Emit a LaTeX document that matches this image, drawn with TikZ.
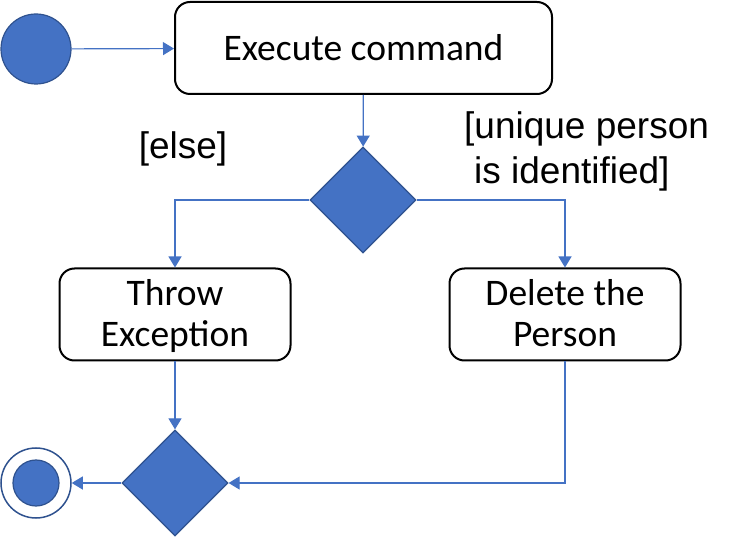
\documentclass[tikz,border=0pt]{standalone}
\usepackage{fontspec}
\setmainfont{Carlito}
\newfontfamily\guardfont{Liberation Sans}
\usetikzlibrary{arrows.meta}
\usetikzlibrary{shapes.geometric}
\definecolor{umlblue}{HTML}{4472C4}
\definecolor{umledge}{HTML}{2F528F}
\newcommand\linestrut{\rule[-9pt]{0pt}{41pt}}

\begin{document}
\begin{tikzpicture}[x=1pt, y=-1pt, >={Triangle[length=11pt,width=13pt]},
activity/.style={draw=black, line width=2pt, rounded corners=15pt, inner sep=0, font=\fontsize{37.5}{41}\selectfont, align=center},
branch/.style={diamond, aspect=1, fill=umlblue, draw=umledge, line width=1.2pt, minimum size=106pt, inner sep=0},
initial/.style={circle, fill=umlblue, draw=umledge, line width=1.2pt, minimum size=70pt, inner sep=0},
final/.style={circle, fill=white, draw=umledge, line width=1.5pt, minimum size=70pt, inner sep=0},
flow/.style={->, umlblue, line width=1.2pt},
guard/.style={inner sep=0, font=\guardfont\fontsize{37}{45}\selectfont, align=left}]
\useasboundingbox (0,0) rectangle (745,537);
% nodes
\node[initial] (start) at (36,49) {};
\node[activity, minimum width=377pt, minimum height=92pt] (exec) at (363.5,48) {Execute command};
\node[branch] (check) at (363,200) {};
\node[activity, minimum width=231pt, minimum height=92pt] (throw) at (175,314.5) {\linestrut Throw\\Exception\linestrut};
\node[activity, minimum width=231pt, minimum height=92pt] (delete) at (565,314.5) {\linestrut Delete the\\Person\linestrut};
\node[branch] (merge) at (175,483) {};
\node[final] (stop) at (36,483) {};
\node[initial, minimum size=46pt] (stopcore) at (stop) {};
% guards
\node[guard, anchor=center] (elseguard) at (183,149) {[else]};
\node[guard, anchor=north west] (uniqueguard) at (464,111) {[unique person\\\hspace{10pt}is identified]};
% flows
\draw[flow] (start) -- (exec);
\draw[flow] (exec) -- (check);
\draw[flow] (check.west) -| (throw.north);
\draw[flow] (check.east) -| (delete.north);
\draw[flow] (throw) -- (merge);
\draw[flow] (delete.south) |- (merge.east);
\draw[flow] (merge.west) -- (stop);
\end{tikzpicture}
\end{document}
